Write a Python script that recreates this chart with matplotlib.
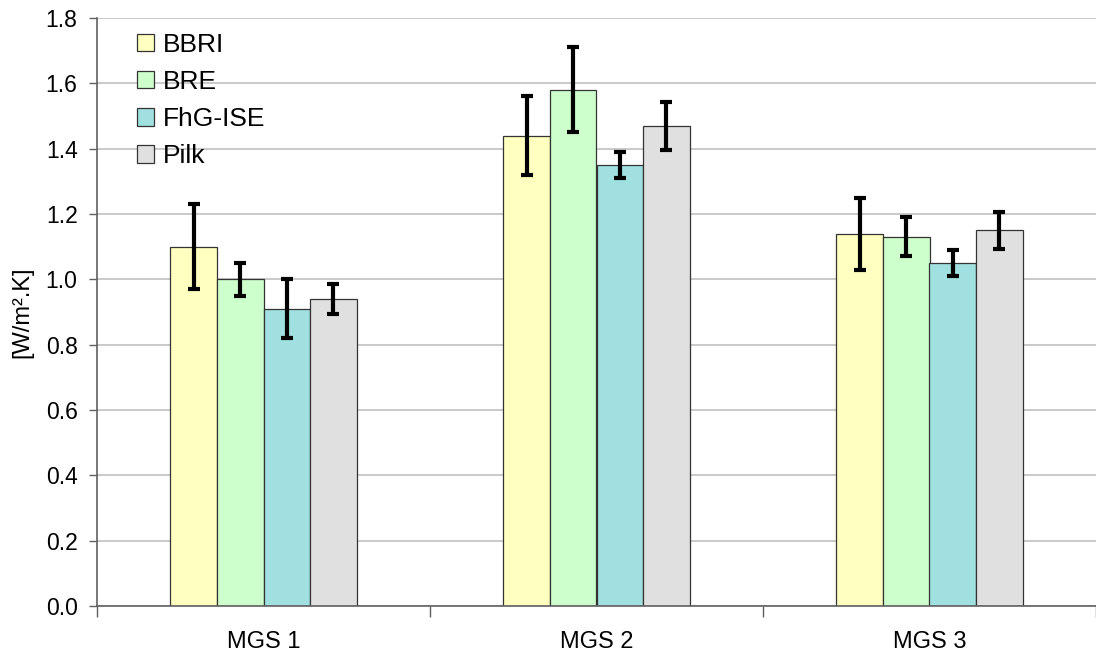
import matplotlib
matplotlib.use("Agg")
import matplotlib.pyplot as plt
import numpy as np
from matplotlib.patches import Patch

plt.rcParams['font.family'] = ['Liberation Sans', 'DejaVu Sans']

categories = ["MGS 1", "MGS 2", "MGS 3"]
series = ["BBRI", "BRE", "FhG-ISE", "Pilk"]
values = {
    "BBRI":    [1.10, 1.44, 1.14],
    "BRE":     [1.00, 1.58, 1.13],
    "FhG-ISE": [0.91, 1.35, 1.05],
    "Pilk":    [0.94, 1.47, 1.15],
}
errors = {
    "BBRI":    [0.13, 0.12, 0.11],
    "BRE":     [0.05, 0.13, 0.06],
    "FhG-ISE": [0.09, 0.04, 0.04],
    "Pilk":    [0.045, 0.073, 0.057],
}
colors = {"BBRI": "#FFFFC0", "BRE": "#CCFFCC", "FhG-ISE": "#A0E0E0", "Pilk": "#E0E0E0"}
yticks = [0.0, 0.2, 0.4, 0.6, 0.8, 1.0, 1.2, 1.4, 1.6, 1.8]

fig = plt.figure(figsize=(10.96, 6.66), dpi=100)
ax = fig.add_axes([97/1096, 60/666, 999/1096, 588/666])

x = np.arange(len(categories))
width = 0.14
for i, s in enumerate(series):
    pos = x + (i - 1.5) * width
    ax.bar(pos, values[s], width, color=colors[s], edgecolor="#333333", linewidth=0.9, zorder=2)
    ax.errorbar(pos, values[s], yerr=errors[s], fmt='none', ecolor='black',
                elinewidth=3, capsize=4.5, capthick=3, zorder=3)

ax.set_xlim(-0.5, len(categories) - 0.5)
ax.set_ylim(0, 1.8)
ax.set_yticks(yticks)
ax.set_yticklabels([f"{v:.1f}" for v in yticks])
ax.set_xticks(x)
ax.set_xticklabels(categories)
ax.set_xticks(np.arange(len(categories) + 1) - 0.5, minor=True)
ax.tick_params(axis='x', which='major', length=0, pad=18, labelsize=17)
ax.tick_params(axis='x', which='minor', length=8, direction='out', color='#606060', width=1)
ax.tick_params(axis='y', length=6, direction='out', color='#606060', width=1, labelsize=16.5, pad=8)
ax.yaxis.grid(True, color='#C0C0C0', linewidth=1.2, zorder=0)
ax.set_axisbelow(True)
for sp in ['top', 'right']:
    ax.spines[sp].set_visible(False)
for sp in ['left', 'bottom']:
    ax.spines[sp].set_color('#606060')
    ax.spines[sp].set_linewidth(1.2)
ax.set_ylabel("[W/m².K]", fontsize=17, labelpad=9)

handles = [Patch(facecolor=colors[s], edgecolor='#333333', linewidth=0.9) for s in series]
ax.legend(handles, series, loc='upper left', bbox_to_anchor=(0.04, 0.975), frameon=False,
          fontsize=19, handlelength=0.65, handleheight=0.65, handletextpad=0.32,
          labelspacing=0.5, borderaxespad=0, borderpad=0)

fig.savefig("out.png", dpi=100)
